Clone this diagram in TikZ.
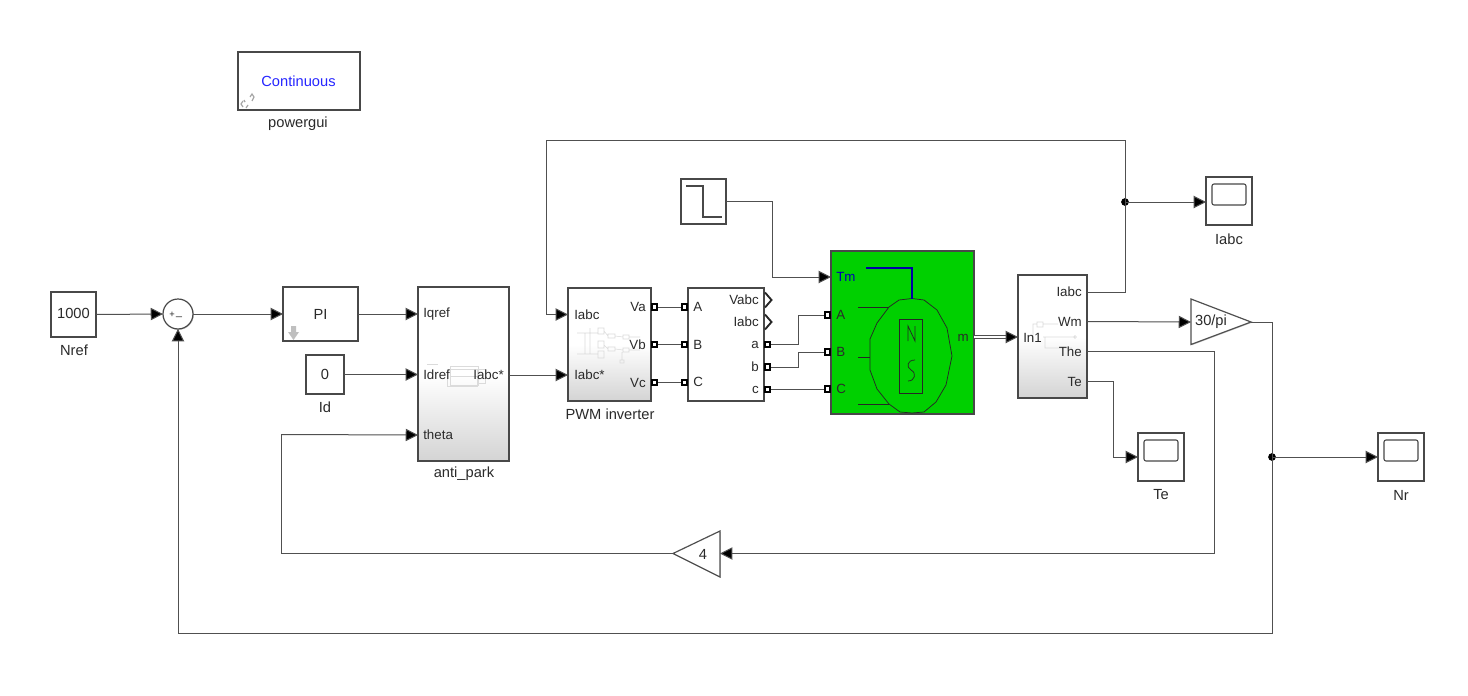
\documentclass[tikz,border=0pt]{standalone}
\usepackage{fontspec}
\setmainfont{Liberation Sans}
\usetikzlibrary{arrows.meta,shadows,shapes.geometric}
\definecolor{wirec}{HTML}{505050}
\definecolor{edgec}{HTML}{484848}
\definecolor{textc}{HTML}{2A2A2A}
\definecolor{motorg}{HTML}{00D000}
\tikzset{
  x=0.75pt,y=-0.75pt,
  wire/.style={draw=wirec,line width=0.75pt},
  sig/.style={wire,-{Triangle[length=9.2pt,width=9.2pt,fill=black]}},
  blockbase/.style={draw=edgec,line width=1pt,inner sep=0pt,outer sep=0pt,rectangle,
    copy shadow={shadow xshift=0.9pt,shadow yshift=-0.9pt,fill=black!25,draw=none}},
  plainblk/.style={blockbase,fill=white},
  gradblk/.style={blockbase,top color=white,bottom color=black!17,middle color=white},
  greenblk/.style={blockbase,fill=motorg},
  lab/.style={text=textc,inner sep=0pt,font=\fontsize{11}{13}\selectfont},
  plab/.style={text=textc,inner sep=0pt,font=\fontsize{10}{12}\selectfont},
  pl/.style={plab,anchor=west},
  pr/.style={plab,anchor=east},
  ghost/.style={draw=black!14,line width=0.4pt},
  port/.style={draw=black,fill=white,line width=1.35pt,minimum size=4.2pt,inner sep=0pt,rectangle},
  jdot/.style={circle,fill=black,minimum size=5.8pt,inner sep=0pt},
  motorline/.style={draw=black!85,line width=0.55pt},
  tri/.style={draw=wirec,fill=white,line width=0.9pt,line join=miter,
    copy shadow={shadow xshift=0.6pt,shadow yshift=-0.6pt,fill=black!20,draw=none}},
  scoperect/.style={draw=edgec,line width=0.8pt,rounded corners=1.5pt},
}
\newcommand{\blk}[6]{\node[#6,minimum width={(#4-#2)*0.75pt},minimum height={(#5-#3)*0.75pt}] (#1) at ({(#2+#4)/2},{(#3+#5)/2}) {};}
\newcommand{\scopeblk}[4]{%
  \blk{#1}{#2}{#3}{#2+46}{#3+48}{plainblk}
  \draw[scoperect] (#2+6,#3+7) rectangle (#2+40,#3+28);
  \node[lab] (#1lab) at (#2+23,#3+62) {#4};}
\begin{document}
\begin{tikzpicture}
\useasboundingbox (0,0) rectangle (1468,696);
\fill[white] (0,0) rectangle (1468,696);

% powergui
\blk{pgui}{238}{52}{360}{110}{plainblk}
\node[lab,text=blue!85!white] (pguit) at (298.5,81) {Continuous};
\node[lab] (pguil) at (298,124) {powergui};
\begin{scope}[draw=black!35,line width=0.9pt]
  \draw (243,101) -- (241,104) -- (243,107) (246,108) -- (248,105);
  \draw (250,97) -- (252,94) -- (254,97) -- (252,101) (245,102) -- (244,100);
\end{scope}

% Nref, sum
\blk{nref}{51}{292}{96}{337}{plainblk}
\node[lab] (nreft) at (73.5,313) {1000};
\node[lab] (nrefl) at (74,350) {Nref};
\node[draw=edgec,fill=white,line width=0.9pt,circle,minimum size=22.5pt,inner sep=0pt,outer sep=0pt,
  copy shadow={shadow xshift=0.6pt,shadow yshift=-0.6pt,fill=black!22,draw=none}] (sum) at (178,314) {};
\node[text=textc,inner sep=0pt,font=\fontsize{7}{8}\selectfont] (sump) at (172,314.5) {+};
\node[text=textc,inner sep=0pt,font=\fontsize{8}{8}\selectfont] (summ) at (179,317) {\_};

% PI
\blk{pi}{283}{287}{358}{341}{plainblk}
\node[lab] (pit) at (320.5,314) {PI};
\fill[black!25] (291,326) -- (296,326) -- (296,332) -- (299,332) -- (293.5,340) -- (288,332) -- (291,332) -- cycle;

% Id
\blk{id}{306}{355}{344}{394}{plainblk}
\node[lab] (idt) at (325,374) {0};
\node[lab] (idl) at (325,407) {Id};

% anti_park
\blk{park}{418}{287}{509}{461}{gradblk}
\draw[ghost] (447,369) rectangle (477,386) (450,366) rectangle (478,376) (450,376) rectangle (478,385) (427,364) -- (438,364) (478,369) -- (485,369) -- (485,383) -- (478,383);
\node[pl] (parkq) at (423,314.5) {Iqref};
\node[pl] (parkd) at (423,375) {Idref};
\node[pl] (parkt) at (423,435) {theta};
\node[pr] (parko) at (504,375) {Iabc*};
\node[lab] (parkl) at (464,474) {anti\_park};

% PWM
\blk{pwm}{568}{288}{651}{401}{gradblk}
\draw[ghost] (577,333) -- (598,333) (577,354) -- (598,354) (590,328) -- (590,354) (585,333) -- (585,354)
  (598,328) rectangle (604,334) (598,341) rectangle (604,348) (598,351) rectangle (604,358)
  (608,334) rectangle (615,338) (608,347) rectangle (615,351)
  (623,335) rectangle (629,339) (623,348) rectangle (629,352)
  (604,331) -- (608,336) (604,345) -- (608,349) (615,336) -- (623,337) (615,349) -- (623,350)
  (629,337) -- (640,337) (629,350) -- (640,350) (622,352) -- (622,360) (620,360) rectangle (624,363);
\node[pl] (pwmi1) at (574,314.5) {Iabc};
\node[pl] (pwmi2) at (574,374.5) {Iabc*};
\node[pr] (pwmva) at (646,307) {Va};
\node[pr] (pwmvb) at (646,344.5) {Vb};
\node[pr] (pwmvc) at (646,382.5) {Vc};
\node[lab] (pwml) at (610,414) {PWM inverter};

% measurement block
\blk{meas}{688}{288}{764}{401}{plainblk}
\node[pl] (measA) at (693,307) {A};
\node[pl] (measB) at (693,344.5) {B};
\node[pl] (measC) at (693,382) {C};
\node[pr] (measV) at (759,300) {Vabc};
\node[pr] (measI) at (759,322) {Iabc};
\node[pr] (measa) at (759,344.5) {a};
\node[pr] (measb) at (759,367) {b};
\node[pr] (measc) at (759,389.5) {c};
\draw[draw=black!85,line width=1.4pt,line join=miter] (765,292.5) -- (771.5,300) -- (765,307.5);
\draw[draw=black!85,line width=1.4pt,line join=miter] (765,314.5) -- (771.5,322) -- (765,329.5);

% step
\blk{step}{681}{179}{726}{224}{plainblk}
\draw[draw=edgec,line width=0.8pt] (686,186) -- (703,186) -- (703,217) -- (722,217);

% motor
\blk{motor}{831}{251}{974}{414}{greenblk}
\node[pl,text=blue!70!black] (mTm) at (836,277) {Tm};
\node[pl] (mA) at (836,315) {A};
\node[pl] (mB) at (836,352) {B};
\node[pl] (mC) at (836,389) {C};
\node[pr] (mm) at (969,338) {m};
\draw[motorline] (870,339) -- (870,370) -- (877,389) -- (889,404) -- (900,412) -- (912,413) -- (924,412) -- (936,402) -- (946,385) -- (952,356) -- (947,328) -- (937,310) -- (924,300) -- (912,298.5) -- (899,300) -- (889,307) -- (877,323) -- cycle;
\draw[motorline] (858,307) -- (889,307) (858,357) -- (870,357) (858,404.5) -- (889,404.5);
\draw[motorline] (899,319) rectangle (922,393);
\draw[draw=blue!65!black,line width=0.9pt] (866,268) -- (912,268) -- (912,299);
\draw[motorline] (908,341) -- (908,326) -- (915,341) -- (915,326);
\draw[motorline] (915,360) .. controls (907,360) and (906,367) .. (911,370) .. controls (917,373) and (915,381) .. (908,381);

% output block
\blk{out}{1018}{275}{1087}{398}{gradblk}
\draw[ghost] (1033,342) -- (1033,324) -- (1037,324) (1037,322) rectangle (1043,327) (1043,324) -- (1058,324)
  (1043,337) -- (1075,337) (1075,337) circle (1.5) (1045,337) -- (1045,348) -- (1072,348);
\node[pl] (outi) at (1023,337.5) {In1};
\node[pr] (outa) at (1082,292) {Iabc};
\node[pr] (outw) at (1082,321.5) {Wm};
\node[pr] (outh) at (1082,351.5) {The};
\node[pr] (oute) at (1082,381.5) {Te};

% scopes
\scopeblk{sia}{1206}{177}{Iabc}
\scopeblk{ste}{1138}{433}{Te}
\scopeblk{snr}{1378}{433}{Nr}

% gains
\coordinate (g30in) at (1191,322);
\coordinate (g30out) at (1251,322);
\draw[tri] (1191,299) -- (1251,322) -- (1191,344.5) -- cycle;
\node[lab] (g30t) at (1211,322) {30/pi};
\coordinate (g4in) at (720,553.5);
\coordinate (g4out) at (673,553.5);
\draw[tri] (720,531) -- (673,553.5) -- (720,577) -- cycle;
\node[lab] (g4t) at (703,554) {4};

% junctions and bends
\node[jdot] (j1) at (1125,202) {};
\node[jdot] (j2) at (1272,457) {};
\coordinate (mdbl) at (1008,337);
\coordinate (minin) at (1018,337);
\coordinate (mdblstart) at (974,337);

% connectors
\draw[sig] (nref.east) -- (sum.west);
\draw[sig] (sum.east) -- (pi.west);
\draw[sig] (pi.east) -- (park.west |- pi.east);
\draw[sig] (id.east) -- (park.west |- id.east);
\draw[sig] (park.east |- parko) -- (pwm.west |- parko);
\draw[wire] (g4out) -| (281,434.5);
\draw[sig] (281,434.5) -- (park.west |- parkt);
\draw[wire] (g30out) -| (j2.center);
\draw[wire] (j2.center) |- (178,633);
\draw[sig] (178,633) -- (sum.south);
\draw[sig] (j2.center) -- (snr.west |- j2);
\draw[sig] (out.east |- outw) -- (g30in);
\draw[wire] (out.east |- outh) -| (1214,553.5);
\draw[sig] (1214,553.5) -- (g4in);
\draw[wire] (out.east |- oute) -| (1113,457);
\draw[sig] (1113,457) -- (ste.west |- j2);
\draw[wire] (out.east |- outa) -| (j1.center);
\draw[wire] (j1.center) |- (546,140);
\draw[wire] (546,140) -- (546,314.5);
\draw[sig] (546,314.5) -- (pwm.west |- pwmi1);
\draw[sig] (j1.center) -- (sia.west |- j1);
\draw[wire] (step.east) -| (772,277);
\draw[sig] (772,277) -- (motor.west |- mTm);
\draw[wire] (pwm.east |- pwmva) -- (meas.west |- pwmva);
\draw[wire] (pwm.east |- pwmvb) -- (meas.west |- pwmvb);
\draw[wire] (pwm.east |- pwmvc) -- (meas.west |- pwmvc);
\draw[wire] (meas.east |- measa) -| (798,315);
\draw[wire] (798,315) -- (motor.west |- mA);
\draw[wire] (meas.east |- measb) -| (798,352);
\draw[wire] (798,352) -- (motor.west |- mB);
\draw[wire] (meas.east |- measc) -- (motor.west |- measc);
\draw[draw=wirec,line width=0.7pt,double=white,double distance=0.9pt] (mdblstart) -- (mdbl);
\draw[sig] (mdbl) -- (minin);

% physical ports
\foreach \nm/\px/\py in {pa/654.5/307,pb/654.5/344.5,pc/654.5/382.5,qa/684.5/307,qb/684.5/344.5,qc/684.5/382.5,
  ra/767.5/344.5,rb/767.5/367,rc/767.5/389.5,sa/827.5/315,sb/827.5/352,sc/827.5/389}
  \node[port] (\nm) at (\px,\py) {};
\end{tikzpicture}
\end{document}
